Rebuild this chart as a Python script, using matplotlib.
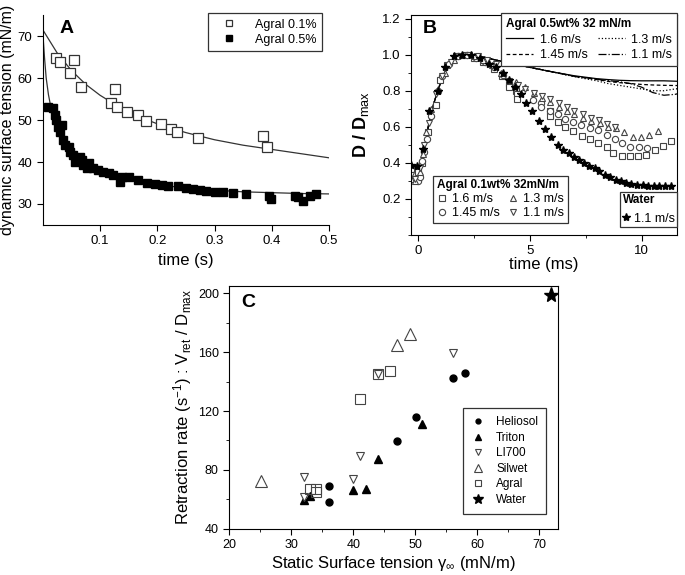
import matplotlib

matplotlib.use("Agg")
import matplotlib.pyplot as plt
from matplotlib.ticker import AutoMinorLocator, MultipleLocator

plt.rcParams["font.family"] = ["Liberation Sans", "DejaVu Sans"]
plt.rcParams["mathtext.fontset"] = "custom"
plt.rcParams["mathtext.rm"] = "Liberation Sans"
plt.rcParams["mathtext.it"] = "Liberation Sans:italic"
plt.rcParams["mathtext.bf"] = "Liberation Sans:bold"

# ---- panel A: dynamic surface tension ----
a01_t = [0.023, 0.030, 0.048, 0.055, 0.067, 0.119, 0.126, 0.129, 0.147, 0.166,
         0.180, 0.206, 0.224, 0.235, 0.272, 0.385, 0.392]
a01_g = [64.7, 63.9, 61.3, 64.4, 57.9, 54.1, 57.3, 53.2, 51.9, 51.1,
         49.8, 49.0, 47.9, 47.1, 45.6, 46.1, 43.5]
a05_t = [0.010, 0.018, 0.021, 0.024, 0.027, 0.030, 0.033, 0.036, 0.039, 0.045,
         0.048, 0.053, 0.056, 0.065, 0.068, 0.071, 0.077, 0.080, 0.088, 0.097,
         0.106, 0.115, 0.123, 0.135, 0.138, 0.150, 0.167, 0.182, 0.196, 0.208,
         0.219, 0.237, 0.251, 0.263, 0.275, 0.286, 0.301, 0.315, 0.333, 0.355,
         0.396, 0.398, 0.441, 0.446, 0.454, 0.467, 0.478]
a05_g = [53.2, 52.8, 51.2, 50.0, 48.4, 47.2, 48.8, 45.2, 44.0, 43.6,
         42.5, 41.7, 40.1, 41.3, 40.5, 39.3, 38.5, 39.7, 38.5, 38.1,
         37.7, 37.3, 36.9, 35.3, 36.5, 36.4, 35.7, 35.1, 34.8, 34.5,
         34.3, 34.3, 33.7, 33.5, 33.3, 33.1, 32.9, 32.9, 32.7, 32.4,
         31.9, 31.2, 31.9, 31.6, 30.8, 31.9, 32.3]
fit01_t = [0.0, 0.025, 0.05, 0.075, 0.1, 0.125, 0.15, 0.175, 0.2, 0.25, 0.3, 0.35, 0.4, 0.45, 0.5]
fit01_g = [71.5, 66.0, 61.8, 58.5, 55.9, 53.8, 52.0, 50.4, 49.1, 47.0, 45.3, 44.0, 43.0, 42.0, 41.0]
fit05_t = [0.0, 0.003, 0.006, 0.01, 0.015, 0.02, 0.03, 0.04, 0.05, 0.07, 0.1, 0.13,
           0.16, 0.2, 0.25, 0.3, 0.35, 0.4, 0.45, 0.5]
fit05_g = [71.0, 65.0, 60.0, 56.0, 52.5, 50.0, 46.8, 44.6, 42.9, 40.5, 38.2, 36.7,
           35.6, 34.6, 33.8, 33.3, 32.9, 32.7, 32.5, 32.4]

# ---- panel B: D / Dmax ----
line_t = [-0.3, 0.0, 0.12, 0.22, 0.35, 0.47, 0.65, 0.89, 1.2, 1.5, 1.8, 2.2, 2.6, 3.0, 3.5, 4.0, 5.0,
          6.0, 7.0, 8.0, 8.5, 9.0, 9.5, 10.0, 10.5, 11.0, 11.5, 12.0]
line_16 = [0.35, 0.33, 0.35, 0.40, 0.50, 0.60, 0.70, 0.80, 0.90, 0.96, 0.99, 1.0, 0.995, 0.985, 0.97, 0.955, 0.93,
           0.905, 0.883, 0.867, 0.862, 0.858, 0.856, 0.855, 0.855, 0.855, 0.853, 0.85]
line_145 = [0.35, 0.33, 0.35, 0.40, 0.50, 0.60, 0.70, 0.80, 0.90, 0.96, 0.99, 1.0, 0.995, 0.985, 0.97, 0.955, 0.93,
            0.905, 0.88, 0.862, 0.852, 0.845, 0.84, 0.835, 0.832, 0.83, 0.829, 0.828]
line_13 = [0.35, 0.33, 0.35, 0.40, 0.50, 0.60, 0.70, 0.80, 0.90, 0.96, 0.99, 1.0, 0.995, 0.985, 0.97, 0.955, 0.93,
           0.905, 0.878, 0.855, 0.84, 0.83, 0.82, 0.81, 0.80, 0.80, 0.81, 0.815]
line_11 = [0.35, 0.33, 0.35, 0.40, 0.50, 0.60, 0.70, 0.80, 0.90, 0.96, 0.99, 1.0, 0.995, 0.985, 0.97, 0.955, 0.93,
           0.905, 0.88, 0.864, 0.856, 0.85, 0.84, 0.82, 0.79, 0.775, 0.78, 0.795]

sq_t = [-0.3, -0.15, 0.0, 0.2, 0.45, 0.81, 1.0, 1.3, 1.7, 2.1, 2.5, 2.9, 3.4, 3.75, 4.07, 4.07,
        4.4, 4.45, 4.42, 5.9, 5.9, 6.26, 6.6, 6.96, 7.33, 7.7, 8.07, 8.44, 8.74, 9.11, 9.48,
        9.85, 10.22, 10.59, 10.96, 11.33]
sq_d = [0.37, 0.34, 0.35, 0.40, 0.57, 0.72, 0.86, 0.94, 0.99, 1.0, 0.98, 0.96, 0.92, 0.88, 0.84, 0.82,
        0.80, 0.78, 0.755, 0.69, 0.66, 0.627, 0.60, 0.575, 0.55, 0.53, 0.51, 0.49, 0.455, 0.436, 0.436,
        0.436, 0.446, 0.47, 0.495, 0.52]
ci_t = [-0.3, -0.15, 0.0, 0.1, 0.2, 0.3, 0.4, 0.6, 0.9, 1.1, 1.4, 1.8, 2.2, 2.6, 3.0, 3.4, 3.8,
        5.15, 5.5, 5.5, 5.9, 6.25, 6.6, 6.95, 7.3, 7.7, 8.05, 8.45, 8.8, 9.15, 9.5, 9.9, 10.25]
ci_d = [0.36, 0.31, 0.30, 0.32, 0.41, 0.46, 0.53, 0.66, 0.80, 0.88, 0.95, 0.99, 1.0, 0.98, 0.96, 0.93, 0.89,
        0.75, 0.73, 0.71, 0.69, 0.67, 0.645, 0.625, 0.61, 0.595, 0.58, 0.555, 0.535, 0.51, 0.49, 0.49, 0.48]
up_t = [-0.3, -0.1, 0.1, 0.25, 0.35, 0.6, 0.9, 1.2, 1.6, 2.0, 2.5, 2.9, 3.3, 3.7, 4.4, 4.8, 5.2,
        5.55, 5.9, 6.3, 6.65, 7.0, 7.4, 7.75, 8.15, 8.5, 8.85, 9.23, 9.6, 9.97, 10.35, 10.75]
up_d = [0.31, 0.30, 0.35, 0.45, 0.57, 0.70, 0.81, 0.90, 0.97, 1.0, 0.99, 0.97, 0.94, 0.90, 0.85, 0.82, 0.79,
        0.76, 0.74, 0.71, 0.69, 0.67, 0.65, 0.63, 0.62, 0.60, 0.595, 0.57, 0.545, 0.545, 0.552, 0.575]
dn_t = [-0.3, -0.1, 0.1, 0.3, 0.5, 0.8, 1.1, 1.5, 1.9, 2.3, 2.7, 3.1, 3.5, 4.1, 4.5, 4.8, 5.2,
        5.55, 5.9, 6.3, 6.65, 7.0, 7.4, 7.75, 8.1, 8.45, 8.8]
dn_d = [0.33, 0.31, 0.37, 0.50, 0.62, 0.78, 0.88, 0.96, 0.99, 1.0, 0.99, 0.97, 0.95, 0.856, 0.83, 0.81, 0.79,
        0.77, 0.755, 0.73, 0.71, 0.69, 0.67, 0.65, 0.635, 0.615, 0.60]
st_t = [-0.3, -0.05, 0.22, 0.52, 0.89, 1.2, 1.6, 2.0, 2.4, 2.8, 3.2, 3.5, 3.8, 4.1, 4.35, 4.6, 4.85,
        5.1, 5.4, 5.7, 5.95, 6.25, 6.5, 6.75, 7.0, 7.2, 7.45, 7.65, 7.9, 8.1, 8.35, 8.6, 8.85,
        9.1, 9.3, 9.55, 9.8, 10.05, 10.3, 10.55, 10.8, 11.05, 11.3]
st_d = [0.39, 0.385, 0.477, 0.686, 0.797, 0.93, 0.99, 1.0, 1.0, 0.98, 0.95, 0.93, 0.90, 0.86, 0.82, 0.78,
        0.73, 0.686, 0.631, 0.588, 0.544, 0.501, 0.474, 0.455, 0.43, 0.415, 0.40, 0.385, 0.372, 0.355,
        0.335, 0.32, 0.307, 0.298, 0.29, 0.285, 0.28, 0.277, 0.272, 0.27, 0.27, 0.27, 0.27]

# ---- panel C: retraction rate vs static surface tension ----
helio_x = [36.1, 36.1, 47.1, 50.1, 56.1, 58.0]
helio_y = [69.2, 57.9, 99.4, 116.1, 142.4, 146.1]
triton_x = [32.1, 33.1, 40.0, 42.1, 44.0, 51.1]
triton_y = [59.5, 62.2, 66.3, 67.0, 87.6, 111.2]
li700_x = [32.1, 32.1, 40.0, 41.1, 44.0, 56.1]
li700_y = [75.4, 61.3, 73.5, 89.6, 145.2, 159.2]
silwet_x = [25.1, 47.1, 49.1]
silwet_y = [72.6, 164.9, 172.4]
agral_x = [33.0, 34.0, 34.0, 41.1, 44.0, 46.0]
agral_y = [66.7, 67.0, 64.7, 127.9, 145.4, 147.2]
water_x = [72.0]
water_y = [198.9]

fig = plt.figure(figsize=(6.85, 5.75), dpi=100)
frame = dict(frameon=True, fancybox=False, edgecolor="#333333", framealpha=1, borderaxespad=0.0)

# ===== A =====
ax_a = fig.add_axes([0.0624, 0.6087, 0.4179, 0.3652])
ax_a.plot(fit01_t, fit01_g, color="#333333", lw=0.9)
ax_a.plot(fit05_t, fit05_g, color="#333333", lw=0.9)
ax_a.plot(a01_t, a01_g, ls="none", marker="s", ms=6.5, mfc="white", mec="#333333", mew=0.9, label="Agral 0.1%")
ax_a.plot(a05_t, a05_g, ls="none", marker="s", ms=6, mfc="black", mec="black", label="Agral 0.5%")
ax_a.set_xlim(0, 0.5)
ax_a.set_ylim(25, 75)
ax_a.set_xticks([0.1, 0.2, 0.3, 0.4, 0.5])
ax_a.set_yticks([30, 40, 50, 60, 70])
ax_a.spines["top"].set_visible(False)
ax_a.spines["right"].set_visible(False)
ax_a.tick_params(direction="out", labelsize=9.5, length=4)
ax_a.set_xlabel("time (s)", fontsize=12, labelpad=4)
ax_a.set_ylabel("dynamic surface tension (mN/m)", fontsize=11.5, labelpad=2)
ax_a.text(0.06, 0.935, "A", transform=ax_a.transAxes, fontsize=14, fontweight="bold", va="center")
leg_a = ax_a.legend(loc="upper right", bbox_to_anchor=(0.9755, 1.0095), fontsize=9, handletextpad=0.8,
                    borderpad=0.45, labelspacing=0.25, markerscale=0.7, handlelength=2.5, **frame)
leg_a.get_frame().set_linewidth(0.9)

# ===== B =====
ax_b = fig.add_axes([0.6, 0.5913, 0.3888, 0.3826])
l1, = ax_b.plot(line_t, line_16, color="black", lw=0.9, ls="-")
l2, = ax_b.plot(line_t, line_145, color="black", lw=0.9, ls="--", dashes=(3, 2))
l3, = ax_b.plot(line_t, line_13, color="black", lw=0.9, ls=":")
l4, = ax_b.plot(line_t, line_11, color="black", lw=0.9, ls="-.")
mk = dict(ls="none", ms=4.5, mfc="white", mec="#444444", mew=0.8)
m1, = ax_b.plot(sq_t, sq_d, marker="s", **mk)
m2, = ax_b.plot(ci_t, ci_d, marker="o", **mk)
m3, = ax_b.plot(up_t, up_d, marker="^", **mk)
m4, = ax_b.plot(dn_t, dn_d, marker="v", **mk)
m5, = ax_b.plot(st_t, st_d, ls="none", marker="*", ms=6, color="black")
ax_b.set_xlim(-0.3, 11.6)
ax_b.set_ylim(0.0, 1.22)
ax_b.set_xticks([0, 5, 10])
ax_b.set_yticks([0.2, 0.4, 0.6, 0.8, 1.0, 1.2])
ax_b.xaxis.set_minor_locator(MultipleLocator(2.5))
ax_b.yaxis.set_minor_locator(MultipleLocator(0.1))
ax_b.tick_params(which="both", direction="out", labelsize=9.5, length=4)
ax_b.tick_params(which="minor", length=2.5)
ax_b.set_xlabel("time (ms)", fontsize=12, labelpad=0)
ax_b.set_ylabel(r"D / D$_{\mathrm{max}}$", fontsize=13, fontweight="bold", labelpad=8)
ax_b.text(0.045, 0.94, "B", transform=ax_b.transAxes, fontsize=14, fontweight="bold", va="center")

title_fp = {"weight": "bold", "size": 8.5}
leg1 = ax_b.legend([l1, l2, l3, l4], ["1.6 m/s", "1.45 m/s", "1.3 m/s", "1.1 m/s"], ncol=2,
                   title="Agral 0.5wt% 32 mN/m", title_fontproperties=title_fp,
                   alignment="left", loc="upper right", bbox_to_anchor=(1.0, 1.01), fontsize=9,
                   handlelength=2.2, columnspacing=0.8, handletextpad=0.5, labelspacing=0.3,
                   borderpad=0.4, **frame)
ax_b.add_artist(leg1)
leg2 = ax_b.legend([m1, m2, m3, m4], ["1.6 m/s", "1.45 m/s", "1.3 m/s", "1.1 m/s"], ncol=2,
                   title="Agral 0.1wt% 32mN/m", title_fontproperties=title_fp,
                   alignment="left", loc="lower left", bbox_to_anchor=(0.083, 0.055), fontsize=9,
                   handlelength=0.8, columnspacing=0.7, handletextpad=0.4, labelspacing=0.15,
                   borderpad=0.3, **frame)
ax_b.add_artist(leg2)
leg3 = ax_b.legend([m5], ["1.1 m/s"], title="Water", title_fontproperties=title_fp,
                   alignment="left", loc="lower right", bbox_to_anchor=(1.0, 0.036), fontsize=9,
                   handlelength=0.5, handletextpad=0.4, borderpad=0.2, **frame)
for lg in (leg1, leg2, leg3):
    lg.get_frame().set_linewidth(0.9)

# ===== C =====
ax_c = fig.add_axes([0.3347, 0.0805, 0.4803, 0.4221])
ax_c.plot(helio_x, helio_y, ls="none", marker="o", ms=5, color="black", label="Heliosol")
ax_c.plot(triton_x, triton_y, ls="none", marker="^", ms=5.5, color="black", label="Triton")
ax_c.plot(li700_x, li700_y, ls="none", marker="v", ms=5.5, mfc="white", mec="#444444", mew=0.8, label="LI700")
ax_c.plot(silwet_x, silwet_y, ls="none", marker="^", ms=8, mfc="white", mec="#444444", mew=0.8, label="Silwet")
ax_c.plot(agral_x, agral_y, ls="none", marker="s", ms=7, mfc="none", mec="#444444", mew=0.8, label="Agral")
ax_c.plot(water_x, water_y, ls="none", marker="*", ms=11, color="black", label="Water")
ax_c.set_xlim(20, 73.1)
ax_c.set_ylim(40, 205)
ax_c.set_xticks([20, 30, 40, 50, 60, 70])
ax_c.set_yticks([40, 80, 120, 160, 200])
ax_c.xaxis.set_minor_locator(AutoMinorLocator(2))
ax_c.yaxis.set_minor_locator(AutoMinorLocator(2))
ax_c.tick_params(which="both", direction="out", labelsize=9, length=4)
ax_c.tick_params(which="minor", length=2.5)
ax_c.set_xlabel("Static Surface tension γ$_{\\infty}$ (mN/m)", fontsize=12, labelpad=2)
ax_c.set_ylabel(r"Retraction rate (s$^{-1}$) : V$_{\mathrm{ret}}$ / D$_{\mathrm{max}}$", fontsize=12, labelpad=3)
ax_c.text(0.035, 0.93, "C", transform=ax_c.transAxes, fontsize=14, fontweight="bold", va="center")
leg_c = ax_c.legend(loc="lower right", bbox_to_anchor=(0.964, 0.06), fontsize=8.5, markerscale=0.7,
                    handletextpad=0.9, labelspacing=0.3, borderpad=0.7, handlelength=1.2, **frame)
leg_c.get_frame().set_linewidth(0.9)

fig.savefig("out.png", dpi=100)
